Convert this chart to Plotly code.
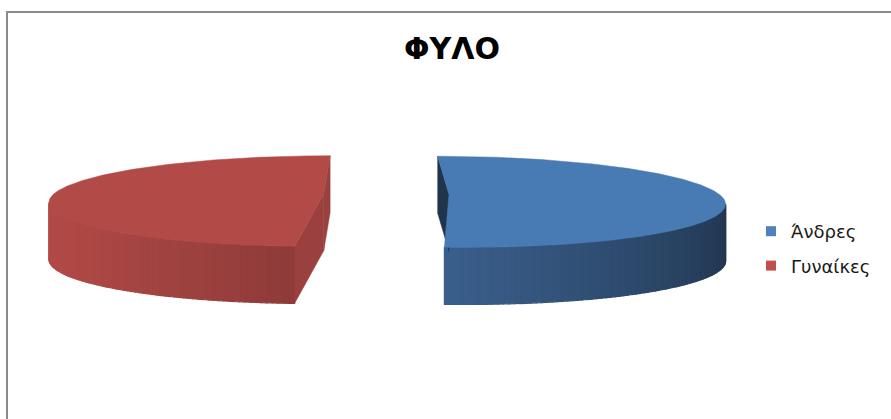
import numpy as np
import plotly.graph_objects as go

# ---------------- data ----------------
categories = ["Άνδρες", "Γυναίκες"]
values = [51, 49]
legend_colors = ["#4F81BD", "#C0504D"]
top_colors = [(72, 122, 180), (178, 74, 72)]
base_colors = [(79, 129, 189), (192, 80, 77)]
cut_shade = [0.40, 0.80]
title_text = "ΦΥΛΟ"

# ---------------- 3D pie projection settings ----------------
W, H = 891, 419
X0, Y0 = 369.0, 194.0      # screen position of camera axis / pie plane centre
L = 6.0                      # camera distance (pie radius = 1)
SCALE = 270.0                # pixels per unit at centre depth
F = SCALE * L
SIN_PHI = 0.164
COS_PHI = float(np.sqrt(1 - SIN_PHI ** 2))
XC = -0.064                  # camera lateral position
WALL = 57.0                  # wall height in pixels
EXPLODE = 0.232
EYE = np.array([XC, -L / COS_PHI])


def project(x, y, z):
    x = np.asarray(x, float)
    y = np.asarray(y, float)
    depth = L + y * COS_PHI
    sx = X0 + F * (x - XC) / depth
    sy = Y0 - F * SIN_PHI * y / depth + WALL * z
    return sx, sy


def rgb(c, f=1.0):
    return "rgb(%d,%d,%d)" % tuple(int(round(min(255, v * f))) for v in c)


def poly(fig, xs, ys, color, lw=1.2):
    fig.add_trace(go.Scatter(
        x=list(xs) + [xs[0]], y=list(ys) + [ys[0]], mode="lines", fill="toself",
        fillcolor=color, line=dict(color=color, width=lw),
        hoverinfo="skip", showlegend=False))


fig = go.Figure()

total = float(sum(values))
start = 0.0
for i, v in enumerate(values):
    span = 360.0 * v / total
    a0, a1 = np.radians(start), np.radians(start + span)
    mid = (a0 + a1) / 2
    cx, cy = EXPLODE * np.sin(mid), EXPLODE * np.cos(mid)
    th = np.linspace(a0, a1, max(int(span * 2), 4) + 1)
    ax, ay = cx + np.sin(th), cy + np.cos(th)

    # curved outer wall (front-facing bands)
    step = 2
    for k in range(0, len(th) - 1, step):
        j = min(k + step, len(th) - 1)
        tm = (th[k] + th[j]) / 2
        pt = np.array([cx + np.sin(tm), cy + np.cos(tm)])
        n = np.array([np.sin(tm), np.cos(tm)])
        if np.dot(n, EYE - pt) <= 0:
            continue
        seg = slice(k, j + 1)
        tx, ty = project(ax[seg], ay[seg], 0)
        bx, by = project(ax[seg], ay[seg], 1)
        f = 0.66 - 0.26 * np.sin(tm) - 0.06 * np.cos(tm)
        poly(fig, list(tx) + list(bx[::-1]), list(ty) + list(by[::-1]),
             rgb(base_colors[i], f))

    # radial cut faces
    for ang, normal in ((a0, np.array([-np.cos(a0), np.sin(a0)])),
                        (a1, np.array([np.cos(a1), -np.sin(a1)]))):
        if np.dot(normal, EYE - np.array([cx, cy])) <= 0:
            continue
        ex, ey = cx + np.sin(ang), cy + np.cos(ang)
        qx = [cx, ex, ex, cx]
        qy = [cy, ey, ey, cy]
        qz = [0, 0, 1, 1]
        sx, sy = [], []
        for px, py, pz in zip(qx, qy, qz):
            a, b = project(px, py, pz)
            sx.append(float(a)); sy.append(float(b))
        poly(fig, sx, sy, rgb(base_colors[i], cut_shade[i]), lw=0.5)

    # top face
    tx, ty = project(np.concatenate([[cx], ax]), np.concatenate([[cy], ay]), 0)
    poly(fig, list(tx), list(ty), rgb(top_colors[i]), lw=0.5)

    start += span

# legend entries
for name, col in zip(categories, legend_colors):
    fig.add_trace(go.Scatter(
        x=[None], y=[None], mode="markers", name=name, legendgroup=name,
        marker=dict(symbol="square", size=10, color=col)))

fig.update_layout(
    width=W, height=H, margin=dict(l=0, r=0, t=0, b=0),
    paper_bgcolor="white", plot_bgcolor="white",
    xaxis=dict(range=[0, W], visible=False, fixedrange=True, domain=[0, 1]),
    yaxis=dict(range=[H, 0], visible=False, fixedrange=True, domain=[0, 1]),
    title=dict(text="<b>" + title_text + "</b>", x=452 / W, y=1 - 48 / H,
               xanchor="center", yanchor="middle",
               font=dict(family="DejaVu Sans", size=30, color="black")),
    legend=dict(x=751 / W, y=1 - 213 / H, xanchor="left", yanchor="top",
                font=dict(family="DejaVu Sans", size=18, color="#1a1a1a"),
                tracegroupgap=8, bgcolor="rgba(0,0,0,0)"),
    shapes=[dict(type="rect", xref="x", yref="y", x0=7, y0=12, x1=W + 10, y1=H + 10,
                 line=dict(color="#8a8a8a", width=2), layer="below")],
    showlegend=True,
)

fig.write_html("out.html")
